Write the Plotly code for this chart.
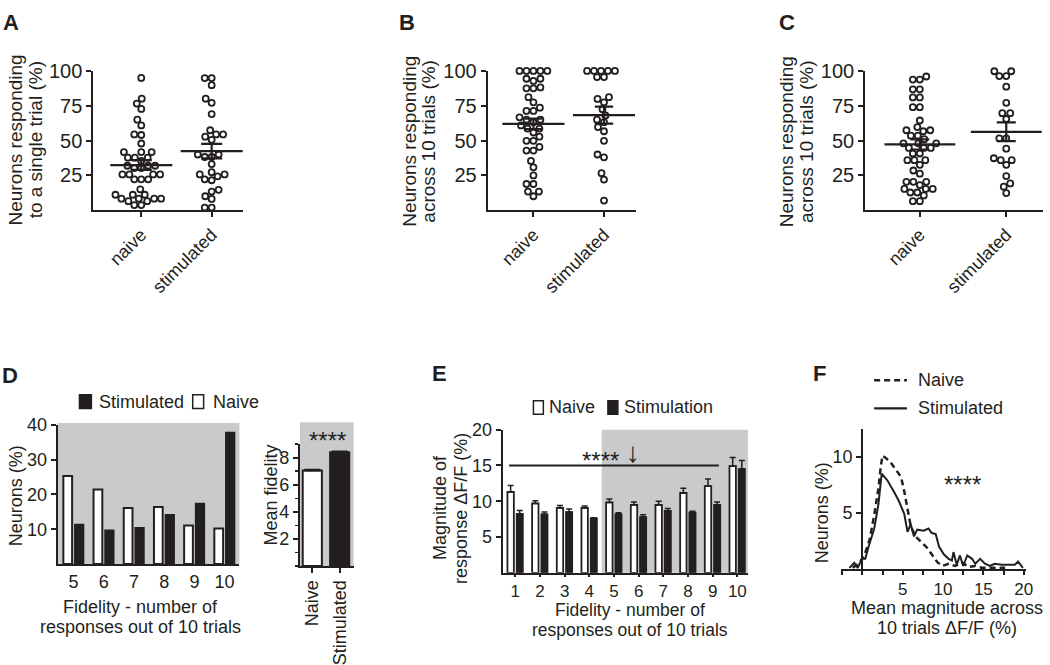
import numpy as np
import plotly.graph_objects as go

W, H = 1050, 665
FONT = "Liberation Sans, Arial, sans-serif"
INK = "#231f20"
GRAY = "#c9cacc"

# ---------------- data ----------------
groups_abc = ["naive", "stimulated"]

# A: neurons responding to a single trial (%)
a_naive = [95.0, 80.1, 76.6, 72.7, 65.0, 60.9, 54.4, 54.0, 47.9, 41.7, 41.7, 41.7,
           37.7, 37.7, 37.7, 35.4, 31.9, 31.9, 31.9, 30.3, 30.3, 25.7, 25.7, 25.7,
           25.7, 22.2, 22.2, 22.2, 15.0, 11.1, 11.1, 11.1, 8.3, 8.3, 8.3, 8.3,
           6.5, 6.5, 3.7, 3.7]
a_stim = [94.9, 94.9, 89.8, 80.1, 77.1, 69.0, 57.4, 54.4, 54.4, 52.8, 50.5, 40.0,
          40.0, 38.2, 38.2, 33.1, 27.3, 25.7, 25.7, 24.3, 22.2, 21.5, 14.6, 13.4,
          10.0, 8.1, 1.9, 1.9]
a_mean = [32.4, 42.4]
a_sem = [3.5, 5.2]

# B: neurons responding across 10 trials (%)
b_naive = [100, 100, 100, 100, 100, 94.4, 94.4, 92.8, 88.2, 87.5, 87.5, 81.2, 77.5,
           73.6, 71.3, 71.3, 66.7, 65.0, 65.0, 63.2, 60.9, 58.6, 58.6, 55.8, 52.8,
           49.8, 49.8, 45.4, 42.8, 42.8, 35.4, 30.8, 25.0, 18.8, 18.8, 13.4, 13.4, 10.0]
b_stim = [100, 100, 100, 100, 100, 95.6, 95.6, 81.2, 79.9, 77.5, 72.5, 68.0, 65.0,
          63.2, 59.7, 56.7, 49.8, 40.0, 38.0, 26.6, 22.0, 6.9]
b_mean = [62.0, 68.3]
b_sem = [3.8, 6.1]

# C: neurons responding across 10 trials (%)
c_naive = [100.2, 96.0, 93.8, 93.8, 86.8, 86.8, 81.0, 81.0, 74.0, 74.0, 64.4, 59.7,
           57.4, 57.4, 56.7, 53.5, 53.5, 51.0, 48.0, 48.0, 48.0, 44.7, 44.7, 44.7,
           40.7, 40.7, 35.9, 35.9, 35.9, 32.6, 28.5, 26.2, 20.4, 20.4, 20.4, 18.0,
           15.3, 15.3, 15.3, 12.7, 12.7, 10.6, 6.5, 6.5]
c_stim = [99.8, 99.8, 96.3, 96.3, 88.7, 77.1, 69.7, 69.7, 65.5, 51.6, 51.6, 44.2,
          37.3, 35.9, 35.9, 32.6, 24.5, 19.2, 16.9, 12.3]
c_mean = [47.2, 56.3]
c_sem = [3.6, 6.7]

# D: fidelity distribution (%)
d_fidelity = [5, 6, 7, 8, 9, 10]
d_naive = [25.3, 21.4, 16.1, 16.4, 11.1, 10.2]
d_stim = [11.4, 9.7, 10.4, 14.2, 17.4, 37.8]
d_inset_groups = ["Naive", "Stimulated"]
d_inset_mean = [7.05, 8.4]
d_inset_sem = [0.06, 0.06]

# E: magnitude of response by fidelity
e_fidelity = [1, 2, 3, 4, 5, 6, 7, 8, 9, 10]
e_naive = [11.3, 9.7, 9.07, 9.07, 9.84, 9.5, 9.48, 11.15, 12.1, 14.9]
e_naive_sem = [0.9, 0.37, 0.33, 0.28, 0.46, 0.4, 0.5, 0.65, 1.0, 1.2]
e_stim = [8.26, 8.17, 8.5, 7.63, 8.17, 7.8, 8.67, 8.44, 9.5, 14.5]
e_stim_sem = [0.44, 0.33, 0.4, 0.07, 0.23, 0.3, 0.33, 0.16, 0.4, 1.2]

# F: distribution of mean magnitude
f_naive_x = [-1.2, -0.4, 0.25, 0.9, 1.5, 2.0, 2.3, 2.5, 2.9, 3.5, 4.1, 4.8, 5.2, 5.6,
             6.0, 6.6, 7.4, 8.0, 8.6, 9.3, 9.9, 10.7, 11.5, 12.3, 13.2, 14.0, 14.8,
             16.0, 17.7]
f_naive_y = [0.1, 0.5, 1.2, 2.6, 4.9, 7.2, 9.2, 10.1, 9.9, 9.5, 8.9, 8.2, 6.9, 5.2,
             3.8, 2.9, 2.3, 1.9, 1.3, 0.6, 0.26, 0.46, 0.26, 0.6, 0.17, 0.26, 0.1,
             0.1, 0.1]
f_stim_x = [-1.6, -1.0, -0.57, -0.04, 0.37, 0.78, 1.48, 2.0, 2.4, 3.1, 3.9, 4.5, 5.2,
            5.6, 6.0, 6.4, 6.8, 7.6, 8.2, 8.6, 9.1, 9.5, 10.1, 10.7, 11.1, 11.3, 11.7,
            12.1, 12.5, 13.0, 13.6, 14.0, 14.6, 15.2, 15.8, 16.4, 17.3, 18.1, 18.9,
            19.3, 19.9]
f_stim_y = [0.09, 0.55, 0.09, 0.9, 0.9, 2.0, 3.6, 5.8, 8.5, 7.9, 6.9, 6.1, 4.9, 3.3,
            4.0, 2.9, 3.5, 3.4, 3.6, 3.2, 3.1, 2.0, 1.3, 0.9, 0.75, 1.5, 0.37, 1.2,
            0.26, 1.2, 0.9, 0.46, 0.9, 0.46, 0.26, 0.46, 0.37, 0.37, 0.37, 0.66, 0.09]


# ---------------- helpers ----------------
def dom_x(left, right):
    return [left / W, right / W]


def dom_y(top, bottom):
    return [1 - bottom / H, 1 - top / H]


def swarm(vals, ypx_per_unit, diam=7.0, step=0.5):
    """Simple beeswarm: offsets (in px) so that markers do not overlap."""
    vals = np.asarray(vals, dtype=float)
    order = np.argsort(vals, kind="stable")
    cands = sorted(np.arange(-80, 80.01, step), key=lambda o: (abs(o), o))
    placed = []
    offs = np.zeros(len(vals))
    for i in order:
        yv = vals[i] * ypx_per_unit
        chosen = 0.0
        for o in cands:
            ok = True
            for px, py in placed:
                if (o - px) ** 2 + (yv - py) ** 2 < diam * diam:
                    ok = False
                    break
            if ok:
                chosen = o
                break
        placed.append((chosen, yv))
        offs[i] = chosen
    return offs


TICK_ABC = 20
TICK_DEF = 18
TITLE = 18
TITLE_ABC = 19
LEG = 18


def ax(size=TICK_DEF, **kw):
    base = dict(showline=True, linecolor=INK, linewidth=2, ticks="outside",
                ticklen=5, tickwidth=2, tickcolor=INK, showgrid=False,
                zeroline=False, fixedrange=True,
                tickfont=dict(family=FONT, size=size, color=INK))
    base.update(kw)
    return base


fig = go.Figure()

# ---------------- A, B, C scatter panels ----------------
panels = [
    ("x", "y", a_naive, a_stim, a_mean, a_sem, 71.0, 0.44, 0.15),
    ("x2", "y2", b_naive, b_stim, b_mean, b_sem, 71.0, 0.44, 0.13),
    ("x3", "y3", c_naive, c_stim, c_mean, c_sem, 87.0, 0.41, 0.11),
]
YPX = 1.44  # px per % in A-C
for xa, ya, nv, sv, mn, se, xpx, hw, cw in panels:
    for gi, vals in enumerate([nv, sv]):
        offs = swarm(vals, YPX)
        fig.add_trace(go.Scatter(
            x=gi + offs / xpx, y=vals, mode="markers", xaxis=xa, yaxis=ya,
            cliponaxis=False,
            marker=dict(symbol="circle-open", size=6, color=INK,
                        line=dict(width=1.8, color=INK)),
            showlegend=False, hoverinfo="skip"))
    xs, ys = [], []
    for i, (m, s) in enumerate(zip(mn, se)):
        xs += [i - hw, i + hw, None, i, i, None, i - cw, i + cw, None, i - cw, i + cw, None]
        ys += [m, m, None, m - s, m + s, None, m + s, m + s, None, m - s, m - s, None]
    fig.add_trace(go.Scatter(x=xs, y=ys, mode="lines", xaxis=xa, yaxis=ya,
                             line=dict(color=INK, width=2.2), cliponaxis=False,
                             showlegend=False, hoverinfo="skip"))

# ---------------- D main ----------------
fig.add_trace(go.Bar(x=d_fidelity, y=d_stim, name="Stimulated", xaxis="x4", yaxis="y4",
                     width=0.29, offset=0.04, showlegend=False,
                     marker=dict(color=INK, line=dict(color=INK, width=1.5)),
                     hoverinfo="skip"))
fig.add_trace(go.Bar(x=d_fidelity, y=d_naive, name="Naive", xaxis="x4", yaxis="y4",
                     width=0.29, offset=-0.34, showlegend=False,
                     marker=dict(color="white", line=dict(color=INK, width=2)),
                     hoverinfo="skip"))
# D inset
fig.add_trace(go.Bar(x=[0, 1], y=d_inset_mean, xaxis="x5", yaxis="y5", width=0.7,
                     marker=dict(color=["white", INK], line=dict(color=INK, width=2)),
                     error_y=dict(type="data", array=d_inset_sem, symmetric=False,
                                  arrayminus=[0, 0], color=INK, thickness=2, width=8),
                     showlegend=False, hoverinfo="skip"))

# ---------------- E ----------------
fig.add_trace(go.Bar(x=e_fidelity, y=e_naive, name="Naive", xaxis="x6", yaxis="y6",
                     width=0.26, offset=-0.32, showlegend=False,
                     marker=dict(color="white", line=dict(color=INK, width=1.8)),
                     error_y=dict(type="data", array=e_naive_sem, symmetric=False,
                                  arrayminus=[0] * len(e_naive), color=INK,
                                  thickness=1.5, width=3),
                     hoverinfo="skip"))
fig.add_trace(go.Bar(x=e_fidelity, y=e_stim, name="Stimulation", xaxis="x6", yaxis="y6",
                     width=0.26, offset=0.05, showlegend=False,
                     marker=dict(color=INK, line=dict(color=INK, width=1.5)),
                     error_y=dict(type="data", array=e_stim_sem, symmetric=False,
                                  arrayminus=[0] * len(e_stim), color=INK,
                                  thickness=1.5, width=3),
                     hoverinfo="skip"))

# ---------------- F ----------------
fig.add_trace(go.Scatter(x=f_naive_x, y=f_naive_y, mode="lines", name="Naive",
                         xaxis="x7", yaxis="y7", showlegend=False,
                         line=dict(color=INK, width=2.5, dash="6px,4px"),
                         hoverinfo="skip"))
fig.add_trace(go.Scatter(x=f_stim_x, y=f_stim_y, mode="lines", name="Stimulated",
                         xaxis="x7", yaxis="y7", showlegend=False,
                         line=dict(color=INK, width=2), hoverinfo="skip"))

# ---------------- axes ----------------
E_RANGE = [0.485, 10.43]
xt_abc = dict(family=FONT, size=18, color=INK)
layout_axes = dict(
    xaxis=ax(domain=dom_x(94, 245), range=[-0.68, 1.45], anchor="y", tickvals=[0, 1],
             ticktext=groups_abc, tickangle=-45, tickfont=xt_abc),
    yaxis=ax(TICK_ABC, domain=dom_y(62, 206), range=[0, 100], anchor="x",
             tickvals=[25, 50, 75, 100]),
    xaxis2=ax(domain=dom_x(491, 640), range=[-0.648, 1.45], anchor="y2", tickvals=[0, 1],
              ticktext=groups_abc, tickangle=-45, tickfont=xt_abc),
    yaxis2=ax(TICK_ABC, domain=dom_y(62, 206), range=[0, 100], anchor="x2",
              tickvals=[25, 50, 75, 100]),
    xaxis3=ax(domain=dom_x(871, 1050), range=[-0.632, 1.425], anchor="y3", tickvals=[0, 1],
              ticktext=groups_abc, tickangle=-45, tickfont=xt_abc),
    yaxis3=ax(TICK_ABC, domain=dom_y(62, 206), range=[0, 100], anchor="x3",
              tickvals=[25, 50, 75, 100]),
    xaxis4=ax(domain=dom_x(58, 241), range=[4.47, 10.49], anchor="y4", tickvals=d_fidelity,
              ticks=""),
    yaxis4=ax(domain=dom_y(428, 572), range=[0, 40], anchor="x4", tickvals=[10, 20, 30, 40]),
    xaxis5=ax(domain=dom_x(302, 356), range=[-0.45, 1.51], anchor="y5", tickvals=[0, 1],
              ticktext=d_inset_groups, tickangle=-90),
    yaxis5=ax(domain=dom_y(448, 574), range=[0, 9], anchor="x5", tickvals=[2, 4, 6, 8],
              minor=dict(dtick=1, tick0=0, ticks="outside", ticklen=3, tickwidth=1.5,
                         tickcolor=INK)),
    xaxis6=ax(17, domain=dom_x(506, 753), range=E_RANGE, anchor="y6", tickvals=e_fidelity,
              ticklen=2),
    yaxis6=ax(domain=dom_y(433, 581), range=[0, 20], anchor="x6", tickvals=[5, 10, 15, 20]),
    xaxis7=ax(17, domain=dom_x(847, 1033), range=[-2.6, 20.3], anchor="y7",
              tickvals=[0, 5, 10, 15, 20], ticktext=["", "5", "10", "15", "20"],
              ticklen=4,
              minor=dict(dtick=2.5, tick0=0, ticks="outside", ticklen=4, tickwidth=2,
                         tickcolor=INK)),
    yaxis7=ax(domain=dom_y(432, 577), range=[0, 12.5], anchor="free",
              position=868 / W, tickvals=[5, 10]),
)


def prect(x0, y0, x1, y1, fill):
    return dict(type="rect", xref="paper", yref="paper", x0=x0 / W, x1=x1 / W,
                y0=1 - y1 / H, y1=1 - y0 / H, fillcolor=fill,
                line=dict(color=INK, width=1.5))


def pline(x0, x1, y, dash="solid", width=2.2):
    return dict(type="line", xref="paper", yref="paper", x0=x0 / W, x1=x1 / W,
                y0=1 - y / H, y1=1 - y / H, line=dict(color=INK, width=width, dash=dash))


shapes = [
    dict(type="rect", xref="x4 domain", yref="y4 domain", x0=0, x1=1, y0=0, y1=1.014,
         fillcolor=GRAY, line=dict(width=0), layer="below"),
    dict(type="rect", xref="x5 domain", yref="y5 domain", x0=0, x1=1, y0=0, y1=1.18,
         fillcolor=GRAY, line=dict(width=0), layer="below"),
    dict(type="rect", xref="x6", yref="y6 domain", x0=4.5, x1=E_RANGE[1], y0=0, y1=1,
         fillcolor=GRAY, line=dict(width=0), layer="below"),
    dict(type="line", xref="x6", yref="y6", x0=0.75, x1=9.25, y0=15, y1=15,
         line=dict(color=INK, width=2)),
    # legend keys
    prect(80, 397, 92, 411, INK),
    prect(194, 397, 205, 411, "white"),
    prect(537, 403, 547, 417, "white"),
    prect(612, 403, 622, 417, INK),
    pline(880, 913, 382, dash="6px,4px", width=2.5),
    pline(880, 913, 411),
]


def ann(text, x, y, size=TITLE, angle=0, bold=False, xanchor="center", yanchor="middle"):
    return dict(text=f"<b>{text}</b>" if bold else text, x=x / W, y=1 - y / H,
                xref="paper", yref="paper", showarrow=False, textangle=angle,
                xanchor=xanchor, yanchor=yanchor,
                font=dict(family=FONT, size=size, color=INK))


annotations = [
    ann("A", 11, 12, size=22, bold=True),
    ann("B", 410, 12, size=22, bold=True),
    ann("C", 792, 12, size=22, bold=True),
    ann("D", 10, 377, size=22, bold=True),
    ann("E", 442, 375, size=22, bold=True),
    ann("F", 825, 375, size=22, bold=True),
    # A-C y titles
    ann("Neurons responding", 16, 133, size=TITLE_ABC, angle=-90),
    ann("to a single trial (%)", 36, 133, size=TITLE_ABC, angle=-90),
    ann("Neurons responding", 412, 135, size=TITLE_ABC, angle=-90),
    ann("across 10 trials (%)", 431, 135, size=TITLE_ABC, angle=-90),
    ann("Neurons responding", 792, 135, size=TITLE_ABC, angle=-90),
    ann("across 10 trials (%)", 812, 135, size=TITLE_ABC, angle=-90),
    # D
    ann("Neurons (%)", 17, 501, angle=-90),
    ann("Fidelity - number of", 141, 616),
    ann("responses out of 10 trials", 141, 637),
    ann("Mean fidelity", 273, 501, angle=-90),
    ann("****", 330, 444, size=24),
    ann("Stimulated", 98, 404, size=LEG, xanchor="left"),
    ann("Naive", 212, 404, size=LEG, xanchor="left"),
    # E
    ann("Magnitude of", 443, 514, angle=-90),
    ann("response ΔF/F (%)", 464, 514, angle=-90),
    ann("Fidelity - number of", 634, 620, size=17.5),
    ann("responses out of 10 trials", 634, 640, size=17.5),
    ann("****", 605, 465, size=24),
    ann("↓", 637, 457, size=28),
    ann("Naive", 551, 410, size=LEG, xanchor="left"),
    ann("Stimulation", 626, 410, size=LEG, xanchor="left"),
    # F
    ann("Neurons (%)", 827, 519, angle=-90),
    ann("Mean magnitude across", 953, 617),
    ann("10 trials ΔF/F (%)", 953, 638),
    ann("****", 969, 490, size=24),
    ann("Naive", 922, 382, size=LEG, xanchor="left"),
    ann("Stimulated", 922, 411, size=LEG, xanchor="left"),
]

fig.update_layout(
    width=W, height=H, margin=dict(l=0, r=0, t=0, b=0),
    paper_bgcolor="white", plot_bgcolor="white",
    barmode="overlay", showlegend=False,
    font=dict(family=FONT, size=TITLE, color=INK),
    shapes=shapes, annotations=annotations,
    **layout_axes,
)

fig.write_html("out.html",
               config={"displayModeBar": False, "staticPlot": True},
               post_script="document.body.style.margin='0';"
                           "document.body.style.overflow='hidden';")
